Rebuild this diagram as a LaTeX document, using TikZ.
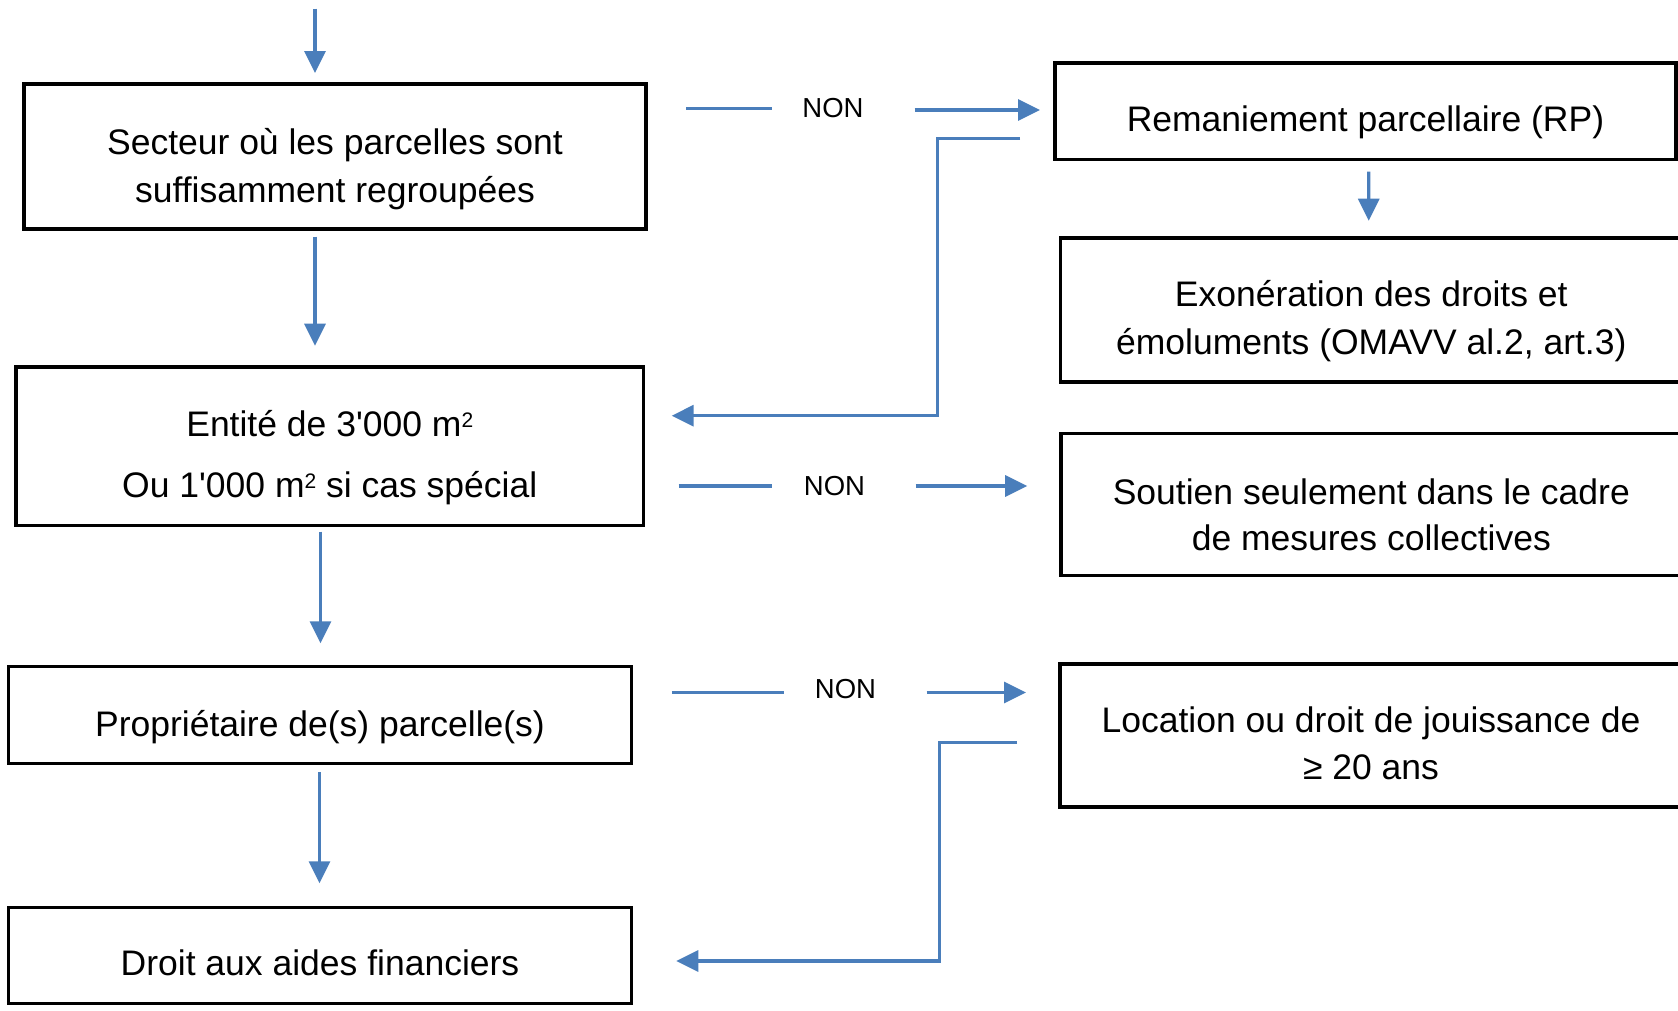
\documentclass[tikz,border=0pt]{standalone}
\usepackage{fontspec}
\setmainfont{Liberation Sans}[Ligatures=TeXOff]
\usetikzlibrary{arrows.meta,calc}
\definecolor{flowblue}{RGB}{74,126,187}
\newcommand\ms{\rule[-7.5pt]{0pt}{26pt}}
\newcommand\sqm{m\raisebox{9pt}{\fontsize{21}{21}\selectfont 2}}
\begin{document}
\begin{tikzpicture}[x=1pt,y=-1pt,
  box/.style 2 args={draw=black,line width=3.5pt,inner sep=0pt,outer sep=0pt,
    minimum width=#1,minimum height=#2},
  txt/.style={align=center,inner sep=0pt,outer sep=0pt,font=\fontsize{35.5}{47.4}\selectfont},
  non/.style={inner sep=0pt,outer sep=0pt,font=\fontsize{27.5}{30}\selectfont},
  conn/.style={draw=flowblue,line width=3.2pt},
  arr/.style={conn,-{Triangle[length=22pt,width=21pt]}}]
\fill[white] (0,0) rectangle (1678,1010);
\useasboundingbox (0,0) rectangle (1678,1010);

% left column
\node[box={622}{145}] (A) at (335,156.5) {};
\node[txt] (At) at ($(A.center)+(0,12.5)$) {\ms Secteur où les parcelles sont\\\ms suffisamment regroupées};

\node[box={627.5}{158.5}] (B) at (329.75,446.25) {};
\node[txt,font=\fontsize{35.5}{61}\selectfont] (Bt) at ($(B.center)+(0,11.3)$) {\ms Entité de 3'000 \sqm\\\ms Ou 1'000 \sqm{} si cas spécial};

\node[box={623}{96.6}] (C) at (320,715) {};
\node[txt] (Ct) at ($(C.center)+(0,11.8)$) {\ms Propriétaire de(s) parcelle(s)};

\node[box={623}{96}] (D) at (320,955.3) {};
\node[txt] (Dt) at ($(D.center)+(0,11)$) {\ms Droit aux aides financiers};

% right column
\node[box={621}{96.5}] (R1) at (1365.5,111.25) {};
\node[txt] (R1t) at ($(R1.center)+(0,11)$) {\ms Remaniement parcellaire (RP)};

\node[box={621.5}{144}] (R2) at (1371.25,310) {};
\node[txt] (R2t) at ($(R2.center)+(0,11)$) {\ms Exonération des droits et\\\ms émoluments (OMAVV al.2, art.3)};

\node[box={621}{142}] (R3) at (1371.3,504.5) {};
\node[txt,font=\fontsize{35.5}{46}\selectfont] (R3t) at ($(R3.center)+(0,13.5)$) {\ms Soutien seulement dans le cadre\\\ms de mesures collectives};

\node[box={622}{143}] (R4) at (1371,735.7) {};
\node[txt,font=\fontsize{35.5}{47}\selectfont] (R4t) at ($(R4.center)+(0,11)$) {\ms Location ou droit de jouissance de\\\ms ≥ 20 ans};

% vertical arrows
\coordinate (top) at (315,8.6);
\draw[arr] (top) -- ($(A.north)+(-20,-11)$);
\draw[arr] ($(A.south)+(-20,7.5)$) -- ($(B.north)+(-14.75,-21.3)$);
\draw[arr] ($(B.south)+(-9.25,6.2)$) -- ($(C.north)+(0.5,-23.4)$);
\draw[arr] ($(C.south)+(-0.5,8.7)$) -- ($(D.north)+(-0.5,-24)$);
\draw[arr] ($(R1.south)+(3.2,12.2)$) -- ($(R2.north)+(-2.5,-17.3)$);

% NON rows
\node[non] (N1) at (833,108.5) {NON};
\draw[conn] ($(A.east)+(40,-48)$) -- ($(N1.west)+(-30,0)$);
\draw[arr] ($(N1.east)+(51,1.5)$) -- ($(R1.west)+(-15,-1.25)$);

\node[non] (N2) at (834.5,486) {NON};
\draw[conn] ($(B.east)+(35,39.75)$) -- ($(N2.west)+(-32,0)$);
\draw[arr] ($(N2.east)+(50.5,0)$) -- ($(R3.west)+(-33.6,-18.5)$);

\node[non] (N3) at (845.5,689) {NON};
\draw[conn] ($(C.east)+(40.3,-22.5)$) -- ($(N3.west)+(-30.5,3.5)$);
\draw[arr] ($(N3.east)+(50.5,3.5)$) -- ($(R4.west)+(-34,-43.2)$);

% return connectors
\coordinate (s1) at ($(R1.west)+(-35,27.45)$);
\coordinate (e1) at ($(B.east)+(28.2,-30.55)$);
\draw[arr] (s1) -| ($(e1)+(265.6,0)$) -- (e1);

\coordinate (s2) at ($(R4.west)+(-43,6.5)$);
\coordinate (e2) at ($(D.east)+(44.8,5.7)$);
\draw[arr] (s2) -| ($(e2)+(262.8,0)$) -- (e2);
\end{tikzpicture}
\end{document}
